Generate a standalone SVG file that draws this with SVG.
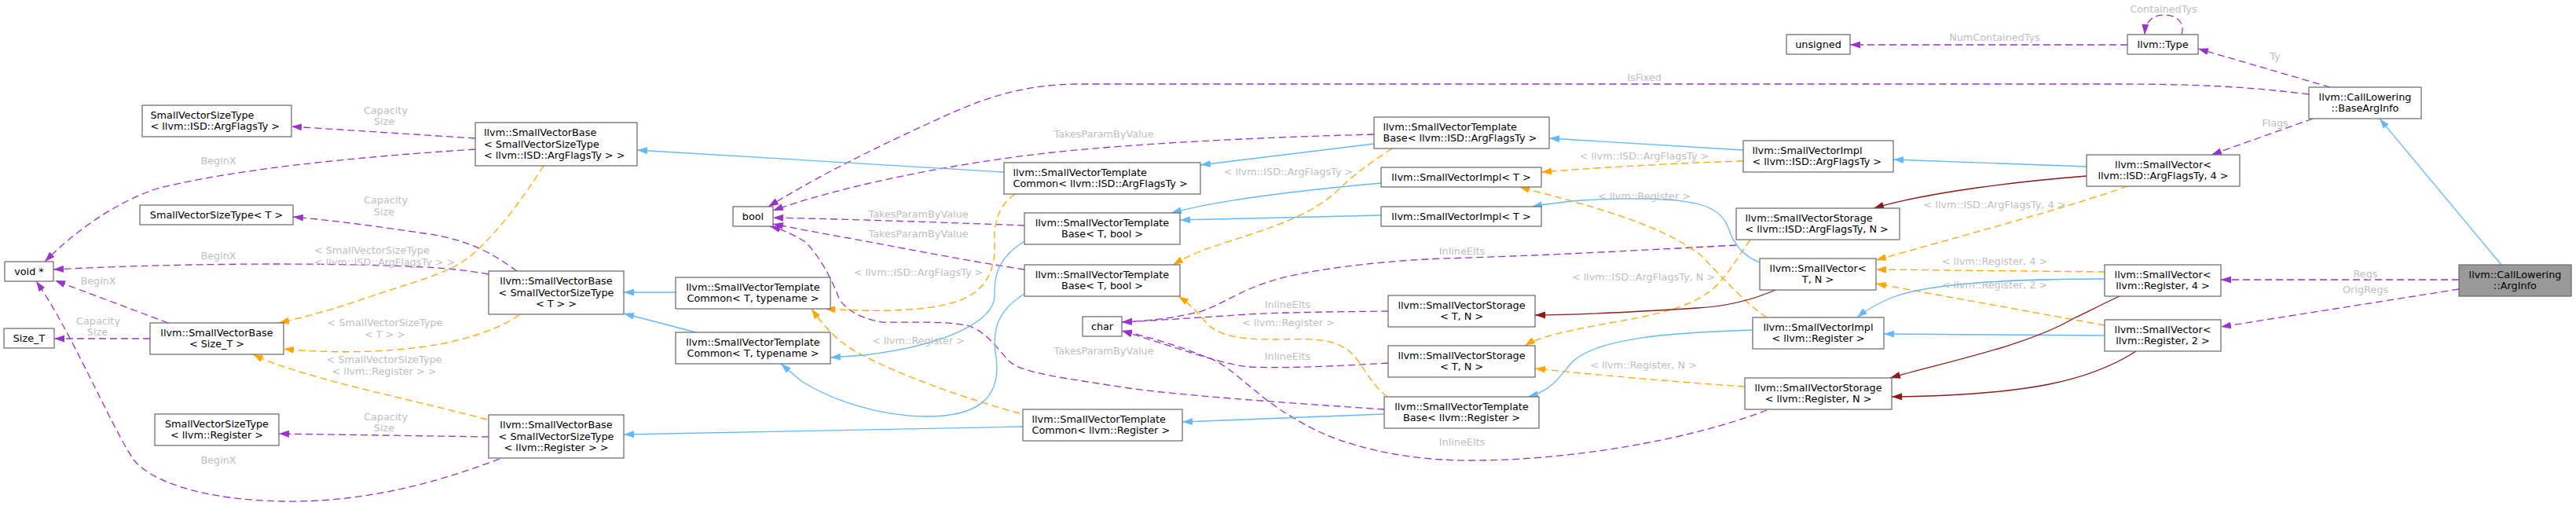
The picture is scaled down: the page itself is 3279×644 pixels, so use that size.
<svg xmlns="http://www.w3.org/2000/svg" width="3279" height="644" viewBox="0 0 3279 644">
<style>
.node rect{fill:#ffffff;stroke:#666666;stroke-width:1.2}
.node.root rect{fill:#999999}
.node text{font-family:"DejaVu Sans","Liberation Sans",sans-serif;font-size:12.8px;fill:#000000}
.c{text-anchor:middle}
.lbl{font-family:"DejaVu Sans","Liberation Sans",sans-serif;font-size:12.8px;fill:#bebebe;text-anchor:middle}
.lbls{font-family:"DejaVu Sans","Liberation Sans",sans-serif;font-size:12.8px;fill:#bebebe}
.p{fill:none;stroke:#9a32cd;stroke-width:1.3;stroke-dasharray:9,5;marker-end:url(#mp)}
.o{fill:none;stroke:#ffa500;stroke-width:1.3;stroke-dasharray:9,5;marker-end:url(#mo)}
.b{fill:none;stroke:#63b8ff;stroke-width:1.3;marker-end:url(#mb)}
.r{fill:none;stroke:#8b1a1a;stroke-width:1.3;marker-end:url(#mr)}
</style>
<defs>
<marker id="mp" viewBox="0 0 13 9" refX="13" refY="4.5" markerWidth="13" markerHeight="9" markerUnits="userSpaceOnUse" orient="auto"><path d="M0,0 L13,4.5 L0,9 z" fill="#9a32cd"/></marker>
<marker id="mo" viewBox="0 0 13 9" refX="13" refY="4.5" markerWidth="13" markerHeight="9" markerUnits="userSpaceOnUse" orient="auto"><path d="M0,0 L13,4.5 L0,9 z" fill="#ffa500"/></marker>
<marker id="mb" viewBox="0 0 13 9" refX="13" refY="4.5" markerWidth="13" markerHeight="9" markerUnits="userSpaceOnUse" orient="auto"><path d="M0,0 L13,4.5 L0,9 z" fill="#63b8ff"/></marker>
<marker id="mr" viewBox="0 0 13 9" refX="13" refY="4.5" markerWidth="13" markerHeight="9" markerUnits="userSpaceOnUse" orient="auto"><path d="M0,0 L13,4.5 L0,9 z" fill="#8b1a1a"/></marker>
</defs>
<rect x="0" y="0" width="3279" height="644" fill="#ffffff"/>

<g id="connectors">
<!-- purple (members) -->
<path class="p" d="M2777,44 C2782,28 2770,19 2755,19 C2740,19 2731,27 2730,44"/>
<path class="p" d="M2708,57 L2355,57"/>
<path class="p" d="M2966,111 L2798,62"/>
<path class="p" d="M2939,120 C2860,110 2790,107 2700,107 L1376,107 C1300,107 1250,125 1180,158 C1110,190 1040,225 978,263"/>
<path class="p" d="M2944,151 L2815,197"/>
<path class="p" d="M3130,356 L2827,356"/>
<path class="p" d="M3130,368 L2827,416"/>
<path class="p" d="M2210,312 C2100,318 1950,326 1834,329 C1740,333 1660,345 1620,357 C1580,369 1560,385 1530,396 C1495,405 1465,408 1428,410"/>
<path class="p" d="M1767,396 C1700,397 1620,397 1560,402 C1510,405 1470,408 1428,410"/>
<path class="p" d="M1767,462 C1700,466 1640,469 1590,467 C1560,464 1520,450 1428,421"/>
<path class="p" d="M2249,522 C2150,560 2000,586 1870,586 C1780,586 1710,565 1674,547 C1640,530 1615,512 1595,495 C1570,475 1555,460 1534,454 C1500,440 1460,428 1428,421"/>
<path class="p" d="M1749,171 C1600,175 1450,182 1330,195 C1200,210 1060,240 984,268"/>
<path class="p" d="M1304,287 C1200,283 1080,279 984,277"/>
<path class="p" d="M1304,343 C1230,332 1130,312 1080,303 C1040,296 1010,290 984,285"/>
<path class="p" d="M1762,521 C1640,513 1500,503 1437,494 C1360,482 1300,475 1285,460 C1270,445 1255,420 1230,414 C1200,408 1150,411 1123,410 C1090,405 1074,390 1068,380 C1058,352 1040,322 1025,308 C1010,298 995,292 980,288"/>
<path class="p" d="M214,411 L70,357"/>
<path class="p" d="M191,431 L69,431"/>
<path class="p" d="M605,190 C450,200 300,215 200,240 C140,260 90,300 57,333"/>
<path class="p" d="M605,176 L371,161"/>
<path class="p" d="M622,349 C590,343 560,341 540,340 C400,333 200,336 68,343"/>
<path class="p" d="M658,345 C630,325 600,305 540,297 C480,288 420,280 373,276"/>
<path class="p" d="M636,584 C580,605 480,640 360,638 C250,636 190,610 170,585 C140,540 90,420 46,358"/>
<path class="p" d="M622,556 L355,552"/>
<!-- orange (template instances) -->
<path class="o" d="M2708,237 C2640,262 2480,305 2388,331"/>
<path class="o" d="M2679,346 L2388,343"/>
<path class="o" d="M2679,414 L2388,361"/>
<path class="o" d="M2219,205 C2150,207 2050,212 1962,219"/>
<path class="o" d="M2249,404 C2220,385 2190,350 2165,325 C2120,290 2050,268 1934,238"/>
<path class="o" d="M2228,305 C2210,330 2200,350 2180,368 C2150,393 2100,402 2049,411 C2000,420 1960,428 1941,440"/>
<path class="o" d="M2221,492 C2160,488 2060,480 1954,469"/>
<path class="o" d="M1772,189 C1740,210 1720,225 1700,245 C1660,280 1600,295 1544,314 C1520,322 1505,330 1493,337"/>
<path class="o" d="M1766,505 C1740,485 1735,460 1715,445 C1690,428 1660,432 1620,432 C1580,432 1550,428 1535,410 C1522,395 1512,385 1500,377"/>
<path class="o" d="M1292,247 C1270,262 1265,285 1266,310 C1267,345 1255,370 1220,383 C1180,397 1110,397 1050,393"/>
<path class="o" d="M1298,526 C1220,505 1140,475 1090,448 C1060,430 1045,410 1033,393"/>
<path class="o" d="M692,211 C670,245 640,290 600,325 C570,350 520,360 470,378 C420,395 390,403 355,411"/>
<path class="o" d="M661,401 C640,415 610,428 560,438 C480,452 400,448 361,444"/>
<path class="o" d="M620,534 C560,518 480,500 430,487 C390,476 350,465 322,451"/>
<!-- blue (inheritance) -->
<path class="b" d="M3184,337 L3029,151"/>
<path class="b" d="M2656,212 L2410,203"/>
<path class="b" d="M2679,355 C2560,355 2460,360 2410,378 C2390,386 2375,395 2364,404"/>
<path class="b" d="M2679,427 L2398,425"/>
<path class="b" d="M2240,334 C2215,325 2205,305 2200,290 C2190,262 2160,255 2100,253 C2030,252 1990,256 1950,263"/>
<path class="b" d="M2219,191 L1972,176"/>
<path class="b" d="M2231,420 C2130,423 2030,430 2000,462 C1985,480 1975,497 1945,505"/>
<path class="b" d="M1749,183 L1528,210"/>
<path class="b" d="M1758,233 C1680,240 1560,252 1491,271"/>
<path class="b" d="M1758,274 L1502,280"/>
<path class="b" d="M1762,527 L1505,537"/>
<path class="b" d="M1304,307 C1275,325 1265,345 1266,375 C1267,410 1200,440 1100,452 L1057,455"/>
<path class="b" d="M1304,374 C1270,395 1262,420 1268,455 C1275,510 1240,530 1180,530 C1120,530 1060,510 1020,485 L994,463"/>
<path class="b" d="M1278,219 L811,191"/>
<path class="b" d="M1302,543 L794,553"/>
<path class="b" d="M860,372 L794,372"/>
<path class="b" d="M886,423 L794,399"/>
<!-- dark red (storage) -->
<path class="r" d="M2656,224 C2580,230 2460,243 2385,265"/>
<path class="r" d="M2698,377 C2670,390 2655,398 2640,405 C2580,440 2480,460 2406,481"/>
<path class="r" d="M2719,447 C2660,485 2580,503 2408,505"/>
<path class="r" d="M2260,369 C2230,382 2200,390 2160,392 C2080,397 2000,401 1954,401"/>

<!-- edge labels -->
<text class="lbl" x="2754" y="16">ContainedTys</text>
<text class="lbl" x="2539" y="52">NumContainedTys</text>
<text class="lbl" x="2896" y="76">Ty</text>
<text class="lbl" x="2093" y="103">IsFixed</text>
<text class="lbl" x="2896" y="161">Flags</text>
<text class="lbl" x="3011" y="353">Regs</text>
<text class="lbl" x="3011" y="373">OrigRegs</text>
<text class="lbl" x="2539" y="265">&lt; llvm::ISD::ArgFlagsTy, 4 &gt;</text>
<text class="lbl" x="2539" y="337">&lt; llvm::Register, 4 &gt;</text>
<text class="lbl" x="2539" y="367">&lt; llvm::Register, 2 &gt;</text>
<text class="lbl" x="2093" y="203">&lt; llvm::ISD::ArgFlagsTy &gt;</text>
<text class="lbl" x="2093" y="254">&lt; llvm::Register &gt;</text>
<text class="lbl" x="2092" y="357">&lt; llvm::ISD::ArgFlagsTy, N &gt;</text>
<text class="lbl" x="2092" y="469">&lt; llvm::Register, N &gt;</text>
<text class="lbl" x="1861" y="324">InlineElts</text>
<text class="lbl" x="1639" y="392">InlineElts</text>
<text class="lbl" x="1639" y="458">InlineElts</text>
<text class="lbl" x="1861" y="567">InlineElts</text>
<text class="lbl" x="1640" y="415">&lt; llvm::Register &gt;</text>
<text class="lbl" x="1640" y="223">&lt; llvm::ISD::ArgFlagsTy &gt;</text>
<text class="lbl" x="1405" y="175">TakesParamByValue</text>
<text class="lbl" x="1169" y="277">TakesParamByValue</text>
<text class="lbl" x="1169" y="302">TakesParamByValue</text>
<text class="lbl" x="1405" y="451">TakesParamByValue</text>
<text class="lbl" x="1169" y="351">&lt; llvm::ISD::ArgFlagsTy &gt;</text>
<text class="lbl" x="1169" y="438">&lt; llvm::Register &gt;</text>
<text class="lbls" x="400" y="323">&lt; SmallVectorSizeType</text>
<text class="lbls" x="400" y="338">&lt; llvm::ISD::ArgFlagsTy &gt; &gt;</text>
<text class="lbl" x="490" y="415">&lt; SmallVectorSizeType</text>
<text class="lbl" x="490" y="430">&lt; T &gt; &gt;</text>
<text class="lbl" x="489" y="462">&lt; SmallVectorSizeType</text>
<text class="lbl" x="489" y="477">&lt; llvm::Register &gt; &gt;</text>
<text class="lbl" x="125" y="362">BeginX</text>
<text class="lbl" x="125" y="413">Capacity</text>
<text class="lbl" x="124" y="427">Size</text>
<text class="lbl" x="278" y="209">BeginX</text>
<text class="lbl" x="491" y="145">Capacity</text>
<text class="lbl" x="489" y="159">Size</text>
<text class="lbl" x="278" y="330">BeginX</text>
<text class="lbl" x="491" y="259">Capacity</text>
<text class="lbl" x="489" y="274">Size</text>
<text class="lbl" x="278" y="590">BeginX</text>
<text class="lbl" x="491" y="535">Capacity</text>
<text class="lbl" x="489" y="549">Size</text>
</g>

<g id="n_arginfo" class="node root"><rect x="3130" y="337" width="143" height="40"/><text class="c"><tspan x="3201.5" y="353.65">llvm::CallLowering</tspan><tspan x="3201.5" y="368.35">::ArgInfo</tspan></text></g>
<g id="n_baseArgInfo" class="node"><rect x="2939" y="111" width="143" height="40"/><text class="c"><tspan x="3010.5" y="127.65">llvm::CallLowering</tspan><tspan x="3010.5" y="142.35">::BaseArgInfo</tspan></text></g>
<g id="n_type" class="node"><rect x="2708" y="44" width="90" height="25"/><text class="c" x="2753" y="60.5">llvm::Type</text></g>
<g id="n_unsigned" class="node"><rect x="2274" y="44" width="81" height="25"/><text class="c" x="2314.5" y="60.5">unsigned</text></g>
<g id="n_sv_af4" class="node"><rect x="2656" y="197" width="195" height="40"/><text class="c"><tspan x="2753.5" y="213.65">llvm::SmallVector&lt;</tspan><tspan x="2753.5" y="228.35">llvm::ISD::ArgFlagsTy, 4 &gt;</tspan></text></g>
<g id="n_sv_r4" class="node"><rect x="2679" y="337" width="148" height="40"/><text class="c"><tspan x="2753" y="353.65">llvm::SmallVector&lt;</tspan><tspan x="2753" y="368.35">llvm::Register, 4 &gt;</tspan></text></g>
<g id="n_sv_r2" class="node"><rect x="2679" y="407" width="148" height="40"/><text class="c"><tspan x="2753" y="423.65">llvm::SmallVector&lt;</tspan><tspan x="2753" y="438.35">llvm::Register, 2 &gt;</tspan></text></g>
<g id="n_svimpl_af" class="node"><rect x="2219" y="179" width="191" height="40"/><text><tspan x="2230.5" y="195.65">llvm::SmallVectorImpl</tspan><tspan x="2230.5" y="210.35">&lt; llvm::ISD::ArgFlagsTy &gt;</tspan></text></g>
<g id="n_svstor_af" class="node"><rect x="2210" y="265" width="208" height="40"/><text><tspan x="2221.5" y="281.65">llvm::SmallVectorStorage</tspan><tspan x="2221.5" y="296.35">&lt; llvm::ISD::ArgFlagsTy, N &gt;</tspan></text></g>
<g id="n_sv_tn" class="node"><rect x="2240" y="329" width="148" height="40"/><text class="c"><tspan x="2314" y="345.65">llvm::SmallVector&lt;</tspan><tspan x="2314" y="360.35">T, N &gt;</tspan></text></g>
<g id="n_svimpl_r" class="node"><rect x="2231" y="404" width="167" height="40"/><text class="c"><tspan x="2314.5" y="420.65">llvm::SmallVectorImpl</tspan><tspan x="2314.5" y="435.35">&lt; llvm::Register &gt;</tspan></text></g>
<g id="n_svstor_r" class="node"><rect x="2221" y="481" width="187" height="40"/><text class="c"><tspan x="2314.5" y="497.65">llvm::SmallVectorStorage</tspan><tspan x="2314.5" y="512.35">&lt; llvm::Register, N &gt;</tspan></text></g>
<g id="n_svtb_af" class="node"><rect x="1749" y="149" width="223" height="40"/><text><tspan x="1760.5" y="165.65">llvm::SmallVectorTemplate</tspan><tspan x="1760.5" y="180.35">Base&lt; llvm::ISD::ArgFlagsTy &gt;</tspan></text></g>
<g id="n_svimpl_t1" class="node"><rect x="1758" y="213" width="204" height="25"/><text class="c" x="1860" y="229.5">llvm::SmallVectorImpl&lt; T &gt;</text></g>
<g id="n_svimpl_t2" class="node"><rect x="1758" y="263" width="204" height="25"/><text class="c" x="1860" y="279.5">llvm::SmallVectorImpl&lt; T &gt;</text></g>
<g id="n_svstor_t1" class="node"><rect x="1767" y="376" width="187" height="40"/><text class="c"><tspan x="1860.5" y="392.65">llvm::SmallVectorStorage</tspan><tspan x="1860.5" y="407.35">&lt; T, N &gt;</tspan></text></g>
<g id="n_svstor_t2" class="node"><rect x="1767" y="440" width="187" height="40"/><text class="c"><tspan x="1860.5" y="456.65">llvm::SmallVectorStorage</tspan><tspan x="1860.5" y="471.35">&lt; T, N &gt;</tspan></text></g>
<g id="n_svtb_r" class="node"><rect x="1762" y="505" width="197" height="40"/><text class="c"><tspan x="1860.5" y="521.65">llvm::SmallVectorTemplate</tspan><tspan x="1860.5" y="536.35">Base&lt; llvm::Register &gt;</tspan></text></g>
<g id="n_svtc_af" class="node"><rect x="1278" y="207" width="250" height="40"/><text><tspan x="1289.5" y="223.65">llvm::SmallVectorTemplate</tspan><tspan x="1289.5" y="238.35">Common&lt; llvm::ISD::ArgFlagsTy &gt;</tspan></text></g>
<g id="n_svtb_t1" class="node"><rect x="1304" y="271" width="198" height="40"/><text class="c"><tspan x="1403" y="287.65">llvm::SmallVectorTemplate</tspan><tspan x="1403" y="302.35">Base&lt; T, bool &gt;</tspan></text></g>
<g id="n_svtb_t2" class="node"><rect x="1304" y="337" width="198" height="40"/><text class="c"><tspan x="1403" y="353.65">llvm::SmallVectorTemplate</tspan><tspan x="1403" y="368.35">Base&lt; T, bool &gt;</tspan></text></g>
<g id="n_char" class="node"><rect x="1378" y="403" width="50" height="25"/><text class="c" x="1403" y="419.5">char</text></g>
<g id="n_svtc_r" class="node"><rect x="1302" y="521" width="203" height="40"/><text><tspan x="1313.5" y="537.65">llvm::SmallVectorTemplate</tspan><tspan x="1313.5" y="552.35">Common&lt; llvm::Register &gt;</tspan></text></g>
<g id="n_svtc_t1" class="node"><rect x="860" y="353" width="197" height="40"/><text class="c"><tspan x="958.5" y="369.65">llvm::SmallVectorTemplate</tspan><tspan x="958.5" y="384.35">Common&lt; T, typename &gt;</tspan></text></g>
<g id="n_svtc_t2" class="node"><rect x="860" y="423" width="197" height="40"/><text class="c"><tspan x="958.5" y="439.65">llvm::SmallVectorTemplate</tspan><tspan x="958.5" y="454.35">Common&lt; T, typename &gt;</tspan></text></g>
<g id="n_bool" class="node"><rect x="933" y="263" width="51" height="25"/><text class="c" x="958.5" y="279.5">bool</text></g>
<g id="n_svb_af" class="node"><rect x="605" y="156" width="206" height="55"/><text><tspan x="616" y="172.8">llvm::SmallVectorBase</tspan><tspan x="616" y="187.5">&lt; SmallVectorSizeType</tspan><tspan x="616" y="202.2">&lt; llvm::ISD::ArgFlagsTy &gt; &gt;</tspan></text></g>
<g id="n_svb_t" class="node"><rect x="622" y="345" width="172" height="55"/><text class="c"><tspan x="708" y="361.8">llvm::SmallVectorBase</tspan><tspan x="708" y="376.5">&lt; SmallVectorSizeType</tspan><tspan x="708" y="391.2">&lt; T &gt; &gt;</tspan></text></g>
<g id="n_svb_r" class="node"><rect x="622" y="528" width="172" height="55"/><text class="c"><tspan x="708" y="544.8">llvm::SmallVectorBase</tspan><tspan x="708" y="559.5">&lt; SmallVectorSizeType</tspan><tspan x="708" y="574.2">&lt; llvm::Register &gt; &gt;</tspan></text></g>
<g id="n_svst_af" class="node"><rect x="181" y="134" width="190" height="40"/><text><tspan x="191.5" y="150.65">SmallVectorSizeType</tspan><tspan x="191.5" y="165.35">&lt; llvm::ISD::ArgFlagsTy &gt;</tspan></text></g>
<g id="n_svst_t" class="node"><rect x="178" y="261" width="195" height="25"/><text class="c" x="275.5" y="277.5">SmallVectorSizeType&lt; T &gt;</text></g>
<g id="n_svst_r" class="node"><rect x="197" y="527" width="158" height="40"/><text class="c"><tspan x="276" y="543.65">SmallVectorSizeType</tspan><tspan x="276" y="558.35">&lt; llvm::Register &gt;</tspan></text></g>
<g id="n_svb_size" class="node"><rect x="191" y="411" width="170" height="40"/><text class="c"><tspan x="276" y="427.65">llvm::SmallVectorBase</tspan><tspan x="276" y="442.35">&lt; Size_T &gt;</tspan></text></g>
<g id="n_void" class="node"><rect x="6" y="333" width="62" height="25"/><text class="c" x="37" y="349.5">void *</text></g>
<g id="n_sizet" class="node"><rect x="5" y="418" width="64" height="25"/><text class="c" x="37" y="434.5">Size_T</text></g>
</svg>
